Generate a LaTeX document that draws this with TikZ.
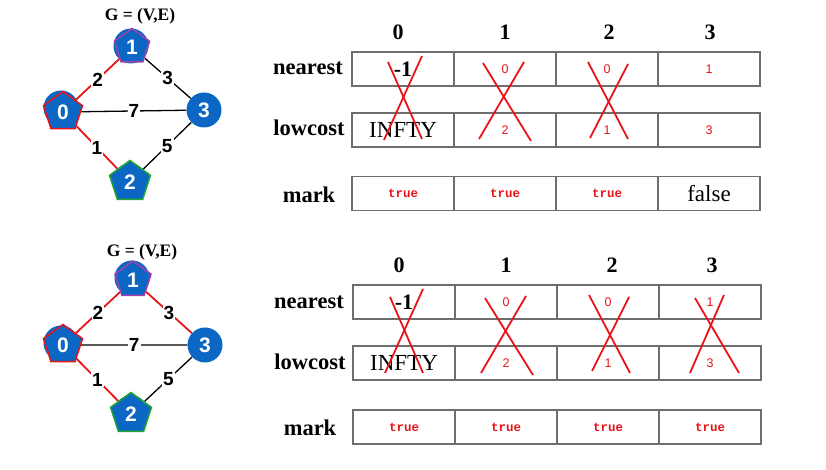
\documentclass[tikz,border=0pt]{standalone}
\usepackage{fontspec}
\setmainfont{Liberation Serif}
\setsansfont{Liberation Sans}
\setmonofont{Liberation Mono}
\usetikzlibrary{shapes.geometric,backgrounds}
\definecolor{nblue}{RGB}{12,102,196}
\definecolor{ered}{RGB}{232,20,24}
\definecolor{ppl}{RGB}{160,64,170}
\definecolor{grn}{RGB}{30,165,50}
\definecolor{cellgray}{RGB}{110,110,110}
\begin{document}
\begin{tikzpicture}[x=1pt,y=1pt,
  vtx/.style={circle,fill=nblue,minimum size=35pt,inner sep=0pt,text=white,font=\sffamily\bfseries\fontsize{21}{21}\selectfont},
  blank/.style={circle,fill=nblue,minimum size=35pt,inner sep=0pt},
  pent/.style={regular polygon,regular polygon sides=5,fill=nblue,minimum size=41pt,inner sep=0pt,line width=1.5pt,text=white,font=\sffamily\bfseries\fontsize{21}{21}\selectfont},
  elab/.style={fill=white,inner sep=1pt,font=\sffamily\bfseries\fontsize{19}{19}\selectfont},
  bedge/.style={draw=black,line width=1.3pt},
  redge/.style={draw=ered,line width=1.8pt},
  ttl/.style={font=\bfseries\fontsize{17.5}{17.5}\selectfont},
  hdr/.style={font=\bfseries\fontsize{22}{22}\selectfont},
  rowlab/.style={font=\bfseries\fontsize{22.5}{22.5}\selectfont},
  cell/.style={draw=cellgray,line width=1.2pt,minimum width=102pt,minimum height=34pt,inner sep=0pt},
  cbold/.style={cell,font=\bfseries\fontsize{22}{22}\selectfont},
  cbig/.style={cell,font=\fontsize{23}{23}\selectfont},
  cnum/.style={cell,text=ered,font=\sffamily\fontsize{12.5}{12.5}\selectfont},
  ctrue/.style={cell,text=ered,font=\ttfamily\bfseries\fontsize{12.5}{12.5}\selectfont},
  xline/.style={draw=ered,line width=1.8pt}
]
\useasboundingbox (0,0) rectangle (826,470);

% ---------- top graph ----------
\node[ttl] (t1) at (140,454) {G = (V,E)};
\node[blank] (ac1) at (131,424) {};
\node[blank] (ac0) at (61,362) {};
\node[blank] (ac2) at (130,289) {};
\node[pent,draw=ppl,minimum size=37pt] (a1) at (132,423) {1};
\node[pent,draw=ered] (a0) at (63,358) {0};
\node[vtx] (a3) at (204,360) {3};
\node[pent,draw=grn,minimum size=43pt] (a2) at (130,288) {2};
\begin{scope}[on background layer]
\draw[redge] (a0) -- node[elab] (l01) {2} (a1);
\draw[bedge] (a1) -- node[elab] (l13) {3} (a3);
\draw[bedge] (a0) -- node[elab] (l03) {7} (a3);
\draw[redge] (a0) -- node[elab] (l02) {1} (a2);
\draw[bedge] (a2) -- node[elab] (l23) {5} (a3);
\end{scope}

% ---------- bottom graph ----------
\node[ttl] (t2) at (142,218) {G = (V,E)};
\node[blank] (bc1) at (132,192) {};
\node[blank] (bc0) at (61,127) {};
\node[blank] (bc2) at (131,57) {};
\node[pent,draw=ppl,minimum size=38pt] (b1) at (133,190) {1};
\node[pent,draw=ered] (b0) at (63,125) {0};
\node[vtx] (b3) at (205,125) {3};
\node[pent,draw=grn,minimum size=43pt] (b2) at (131,56) {2};
\begin{scope}[on background layer]
\draw[redge] (b0) -- node[elab] (m01) {2} (b1);
\draw[redge] (b1) -- node[elab] (m13) {3} (b3);
\draw[bedge] (b0) -- node[elab] (m03) {7} (b3);
\draw[redge] (b0) -- node[elab] (m02) {1} (b2);
\draw[bedge] (b2) -- node[elab] (m23) {5} (b3);
\end{scope}

% ---------- top table ----------
\node[hdr] (th0) at (398,438) {0};
\node[hdr] (th1) at (505,438) {1};
\node[hdr] (th2) at (609,438) {2};
\node[hdr] (th3) at (710,438) {3};
\node[rowlab] (tl1) at (308,402) {nearest};
\node[rowlab] (tl2) at (309,342) {lowcost};
\node[rowlab] (tl3) at (309,275) {mark};
\node[cbold] (tn0) at (403,401) {-1};
\node[cnum]  (tn1) at (505,401) {0};
\node[cnum]  (tn2) at (607,401) {0};
\node[cnum]  (tn3) at (709,401) {1};
\node[cbig]  (tc0) at (403,340) {INFTY};
\node[cnum]  (tc1) at (505,340) {2};
\node[cnum]  (tc2) at (607,340) {1};
\node[cnum]  (tc3) at (709,340) {3};
\node[ctrue] (tm0) at (403,276.5) {true};
\node[ctrue] (tm1) at (505,276.5) {true};
\node[ctrue] (tm2) at (607,276.5) {true};
\node[cbig]  (tm3) at (709,276.5) {false};
\draw[xline] (388,408) -- (422,331);
\draw[xline] (422,414) -- (384,330);
\draw[xline] (483,407) -- (531,329);
\draw[xline] (524,408) -- (479,331);
\draw[xline] (588,408) -- (628,331);
\draw[xline] (628,406) -- (590,332);

% ---------- bottom table ----------
\node[hdr] (bh0) at (399,205) {0};
\node[hdr] (bh1) at (506,205) {1};
\node[hdr] (bh2) at (612,205) {2};
\node[hdr] (bh3) at (712,205) {3};
\node[rowlab] (bl1) at (309,168) {nearest};
\node[rowlab] (bl2) at (310,108) {lowcost};
\node[rowlab] (bl3) at (310,42) {mark};
\node[cbold] (bn0) at (404,168) {-1};
\node[cnum]  (bn1) at (506,168) {0};
\node[cnum]  (bn2) at (608,168) {0};
\node[cnum]  (bn3) at (710,168) {1};
\node[cbig]  (bc0x) at (404,107) {INFTY};
\node[cnum]  (bcc1) at (506,107) {2};
\node[cnum]  (bcc2) at (608,107) {1};
\node[cnum]  (bcc3) at (710,107) {3};
\node[ctrue] (bm0) at (404,43) {true};
\node[ctrue] (bm1) at (506,43) {true};
\node[ctrue] (bm2) at (608,43) {true};
\node[ctrue] (bm3) at (710,43) {true};
\draw[xline] (390,173) -- (423,97);
\draw[xline] (423,181) -- (385,97);
\draw[xline] (485,172) -- (533,95);
\draw[xline] (526,174) -- (481,97);
\draw[xline] (589,175) -- (630,97);
\draw[xline] (629,173) -- (592,99);
\draw[xline] (695,172) -- (739,97);
\draw[xline] (724,175) -- (690,97);
\end{tikzpicture}
\end{document}
